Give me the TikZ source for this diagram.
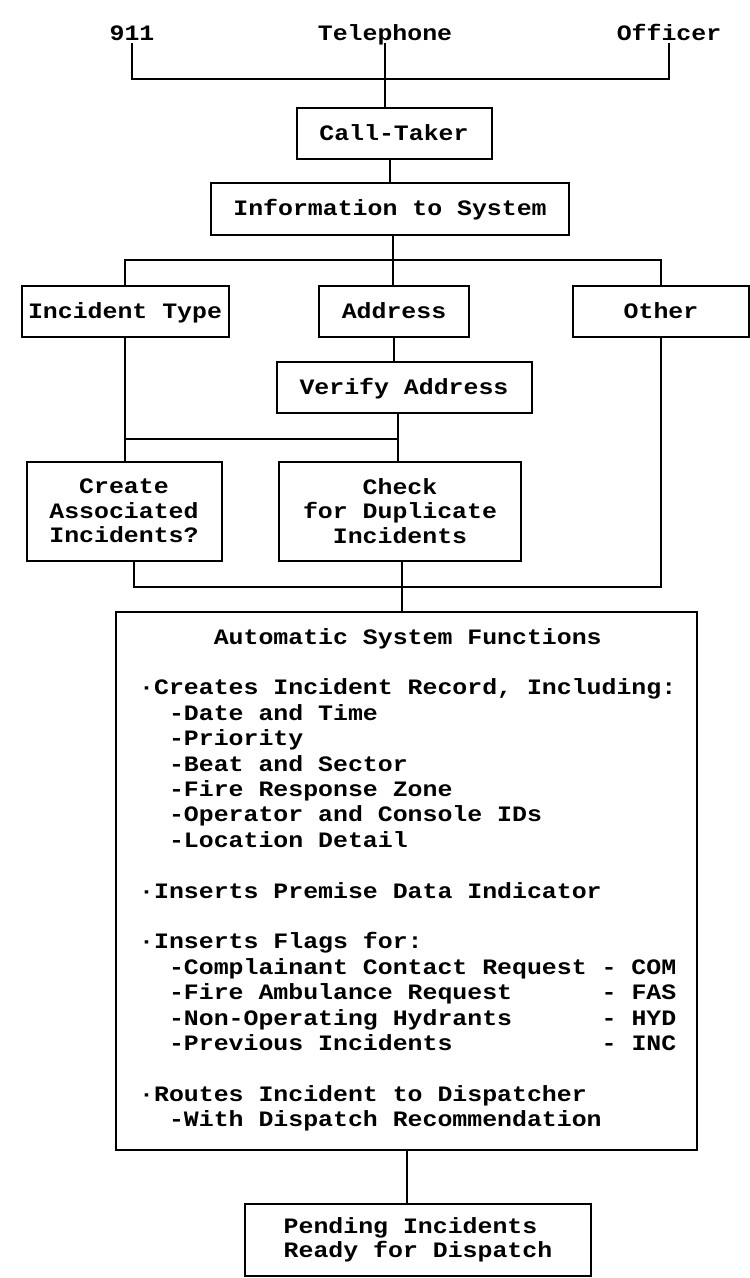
\documentclass[tikz,border=0pt]{standalone}
\usepackage{fontspec}
\newfontfamily\diafont{Liberation Mono}[FakeStretch=1.13]
\newlength\cw
\begin{document}
\settowidth{\cw}{\diafont\bfseries\fontsize{22}{24.5}\selectfont M}%
\begin{tikzpicture}[x=1pt,y=-1pt,
  txt/.style={font=\diafont\bfseries\fontsize{22}{24.5}\selectfont},
  box/.style={txt, draw, line width=2pt, inner sep=0pt, text height=14.5pt, text depth=0pt},
  mbox/.style={txt, draw, line width=2pt, inner sep=0pt, align=center},
  lbl/.style={txt, inner sep=2.5pt, text height=14.5pt, text depth=0pt},
  link/.style={line width=2pt},
  row/.style={txt, anchor=base west, inner sep=0pt}]
\useasboundingbox (0,0) rectangle (750,1278);

% call sources
\node[lbl] (n911) at (132,33) {911};
\node[lbl] (tel) at (385,33) {Telephone};
\node[lbl] (off) at (669,33) {Officer};
\coordinate (bus0) at (385,79);

% intake
\node[box, minimum width=195, minimum height=51] (ct) at (394,133) {Call-Taker};
\node[box, minimum width=358, minimum height=52] (info) at (390,208.5) {Information to System};

\draw[link] (n911.south) |- (bus0) -| (off.south);
\draw[link] (tel.south) -- (tel.south |- ct.north);
\draw[link] (ct.south -| info.north) -- (info.north);

% information items
\coordinate (bus1) at (393,260);
\node[box, minimum width=207, minimum height=51] (itype) at (125,311) {Incident Type};
\node[box, minimum width=150, minimum height=51] (addr) at (394,311) {Address};
\node[box, minimum width=176, minimum height=51] (other) at (661,311) {Other};
\draw[link] (info.south -| bus1) -- (addr.north -| bus1);
\draw[link] (itype.north) |- (bus1) -| (other.north);

\node[box, minimum width=255, minimum height=51] (verify) at (404,387) {Verify Address};
\draw[link] (addr.south) -- (addr.south |- verify.north);

% checks
\coordinate (bus2) at (398,439);
\node[mbox, minimum width=195, minimum height=99] (create) at (124,511) {Create\\Associated\\Incidents?};
\node[mbox, minimum width=242, minimum height=99] (check) at (400,511) {Check\\for Duplicate\\Incidents};
\draw[link] (verify.south -| bus2) -- (check.north -| bus2);
\draw[link] (itype.south) -- (itype.south |- create.north);
\draw[link] (itype.south |- bus2) -- (bus2);

% automatic functions
\node[draw, line width=2pt, minimum width=581, minimum height=537.5, inner sep=0pt] (big) at (406,881) {};
\coordinate (bus3) at (402,587);
\coordinate (c3) at (134,587);
\draw[link] (create.south -| c3) -- (c3) -- (c3 -| other.south) -- (other.south);
\draw[link] (check.south -| bus3) -- (big.north -| bus3);

\foreach \k/\t in {
  0/{\hspace*{5\cw}Automatic System Functions},
  2/{·Creates Incident Record, Including:},
  3/{\hspace*{2\cw}-Date and Time},
  4/{\hspace*{2\cw}-Priority},
  5/{\hspace*{2\cw}-Beat and Sector},
  6/{\hspace*{2\cw}-Fire Response Zone},
  7/{\hspace*{2\cw}-Operator and Console IDs},
  8/{\hspace*{2\cw}-Location Detail},
  10/{·Inserts Premise Data Indicator},
  12/{·Inserts Flags for:},
  13/{\hspace*{2\cw}\makebox[29\cw][l]{-Complainant Contact Request}-\hspace*{\cw}COM},
  14/{\hspace*{2\cw}\makebox[29\cw][l]{-Fire Ambulance Request}-\hspace*{\cw}FAS},
  15/{\hspace*{2\cw}\makebox[29\cw][l]{-Non-Operating Hydrants}-\hspace*{\cw}HYD},
  16/{\hspace*{2\cw}\makebox[29\cw][l]{-Previous Incidents}-\hspace*{\cw}INC},
  18/{·Routes Incident to Dispatcher},
  19/{\hspace*{2\cw}-With Dispatch Recommendation}}
  \node[row] (r\k) at (139,{644+25.4*\k}) {\t};

% result
\coordinate (sp7) at (407,1175);
\node[mbox, align=left, minimum width=346, minimum height=72] (pend) at (418,1240) {Pending Incidents\\Ready for Dispatch};
\draw[link] (big.south -| sp7) -- (pend.north -| sp7);
\end{tikzpicture}
\end{document}
